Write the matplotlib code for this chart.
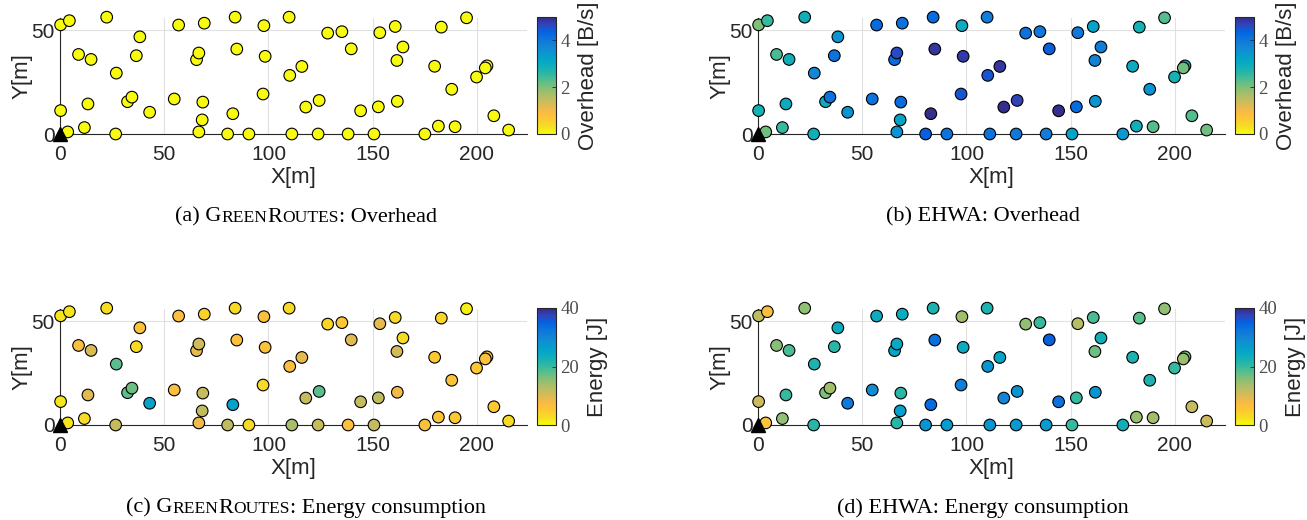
import numpy as np
import matplotlib.pyplot as plt
from matplotlib.colors import LinearSegmentedColormap, Normalize
from matplotlib.cm import ScalarMappable
from matplotlib.offsetbox import TextArea, HPacker, AnchoredOffsetbox

# node positions [m]
xs = [0.3, 4.5, 22.4, 8.9, 14.9, 38.3, 36.6, 27.0, 0.3, 13.4, 32.4, 34.5, 43.0, 11.7, 3.7, 26.7,
      56.9, 69.2, 84.0, 97.8, 109.9, 65.5, 66.6, 84.8, 98.4, 110.2, 116.0, 54.8, 68.5, 97.4, 68.2,
      82.9, 117.9, 124.3, 66.6, 80.4, 90.6, 111.2, 123.8, 128.4, 135.2, 139.7, 153.4, 160.8, 164.5,
      161.6, 182.9, 195.0, 179.7, 204.8, 204.0, 199.8, 187.9, 144.2, 152.7, 161.8, 208.1, 215.2,
      138.2, 150.6, 175.0, 181.5, 189.5]
ys = [52.7, 54.7, 56.4, 38.4, 36.0, 46.9, 37.8, 29.4, 11.3, 14.5, 15.6, 17.8, 10.5, 3.1, 1.0, 0.0,
      52.6, 53.5, 56.4, 52.3, 56.4, 35.9, 39.1, 41.0, 37.5, 28.3, 32.6, 16.9, 15.4, 19.3, 6.8,
      9.8, 13.0, 16.2, 1.0, 0.0, 0.0, 0.0, 0.0, 48.7, 49.4, 41.1, 48.9, 51.9, 42.0,
      35.5, 51.6, 56.1, 32.7, 32.9, 31.9, 27.5, 21.6, 11.2, 13.1, 15.8, 8.8, 1.9,
      0.0, 0.0, 0.0, 3.8, 3.5]
sink = (0, 0)

# overhead [B/s]
overhead_gr = [0.0, 0.0, 0.0, 0.0, 0.0, 0.0, 0.0, 0.0, 0.0, 0.0, 0.0, 0.0, 0.0, 0.0, 0.0, 0.0,
               0.0, 0.0, 0.0, 0.0, 0.0, 0.0, 0.0, 0.0, 0.0, 0.0, 0.0, 0.0, 0.0, 0.0, 0.0,
               0.0, 0.0, 0.0, 0.0, 0.0, 0.0, 0.0, 0.0, 0.0, 0.0, 0.0, 0.0, 0.0, 0.0,
               0.0, 0.0, 0.0, 0.0, 0.0, 0.0, 0.0, 0.0, 0.0, 0.0, 0.0, 0.0, 0.0,
               0.0, 0.0, 0.0, 0.0, 0.0]
overhead_ehwa = [2.0, 2.5, 2.9, 2.4, 2.9, 3.5, 4.1, 3.7, 2.8, 3.0, 3.0, 4.1, 3.5, 2.5, 2.1, 2.9,
                 4.2, 4.1, 4.2, 3.0, 3.9, 4.2, 4.6, 4.85, 4.8, 4.5, 4.85, 4.1, 4.2, 4.5, 3.2,
                 4.95, 4.95, 4.7, 3.5, 4.4, 4.1, 4.1, 4.0, 4.1, 4.0, 4.4, 4.0, 3.2, 3.9,
                 3.8, 2.8, 2.3, 3.0, 3.1, 2.1, 2.8, 3.5, 4.95, 4.2, 3.5, 2.3, 2.1,
                 3.9, 3.2, 3.4, 2.9, 2.3]

# energy [J]
energy_gr = [2, 2, 2.5, 7, 10, 6, 3, 18, 2, 9.5, 18, 17, 26, 3, 2, 11.5,
             7, 4, 3, 6.5, 3, 9, 10.5, 6.5, 6, 7, 9, 7, 11.5, 3, 12,
             26, 11.5, 18, 8, 12, 3, 13.5, 11.5, 3.5, 5.5, 9.5, 9, 3, 2.5,
             10.5, 3.5, 1, 5, 7, 6.5, 5, 6, 11.5, 12, 8, 5, 3,
             6.5, 11.5, 6.5, 6, 5]
energy_ehwa = [12, 6.8, 15, 15.5, 19, 24, 21, 22, 11, 20, 16, 14, 32, 15, 6, 21,
               24, 24, 22, 14, 22, 25, 24.5, 33, 24, 28, 25, 29, 21, 31, 26,
               34, 30, 28, 21, 28, 27, 28, 27, 15, 20, 35, 12.5, 19, 23,
               17, 18, 15, 22, 16, 14.5, 20, 22, 33, 20, 28, 11.5, 11,
               27, 20, 23, 14.5, 14]

# parula, sampled every 4th entry, then flipped (yellow = low)
parula = [(0.2081, 0.1663, 0.5292), (0.1959, 0.2645, 0.7279), (0.0117, 0.3875, 0.8820),
          (0.0498, 0.4586, 0.8641), (0.0793, 0.5200, 0.8312), (0.0343, 0.5966, 0.8199),
          (0.0228, 0.6535, 0.7768), (0.0843, 0.6928, 0.7062), (0.2178, 0.7250, 0.6193),
          (0.3953, 0.7459, 0.5244), (0.5709, 0.7485, 0.4494), (0.7184, 0.7411, 0.3905),
          (0.8507, 0.7299, 0.3360), (0.9739, 0.7314, 0.2666), (0.9955, 0.7861, 0.1967),
          (0.9626, 0.8705, 0.1309), (0.9763, 0.9831, 0.0538)]
cmap = LinearSegmentedColormap.from_list('parula_r', parula[::-1])

W, H = 1307, 520
fig = plt.figure(figsize=(W / 100, H / 100), dpi=100)
sans = ['Liberation Sans', 'DejaVu Sans']
serif = ['Liberation Serif', 'DejaVu Serif']
dark = (0.15, 0.15, 0.15)


def px_axes(l, t, r, b):
    return fig.add_axes([l / W, 1 - b / H, (r - l) / W, (b - t) / H])


panels = [
    (60, 18, 134, overhead_gr, 5, [0, 2, 4], 'Overhead [B/s]', ['(a) G', 'REEN', 'R', 'OUTES', ': Overhead'], 306, 217),
    (758, 18, 134, overhead_ehwa, 5, [0, 2, 4], 'Overhead [B/s]', ['(b) EHWA: Overhead'], 983, 217),
    (60, 309, 425, energy_gr, 40, [0, 20, 40], 'Energy [J]', ['(c) G', 'REEN', 'R', 'OUTES', ': Energy consumption'], 306, 508),
    (758, 309, 425, energy_ehwa, 40, [0, 20, 40], 'Energy [J]', ['(d) EHWA: Energy consumption'], 983, 508),
]

for left, top, bottom, vals, vmax, cticks, clabel, caption, cx, cy in panels:
    ax = px_axes(left, top, left + 467, bottom)
    norm = Normalize(0, vmax)
    ax.scatter(xs, ys, c=vals, cmap=cmap, norm=norm, s=70, edgecolors='black',
               linewidths=0.8, clip_on=False, zorder=3)
    ax.plot(*sink, marker='^', color='black', markersize=10, clip_on=False, zorder=4)
    ax.set_xlim(0, 224)
    ax.set_ylim(0, 56)
    ax.set_xticks([0, 50, 100, 150, 200])
    ax.set_yticks([0, 50])
    ax.grid(True, color=(0.88, 0.88, 0.88), linewidth=0.8)
    ax.set_axisbelow(True)
    for s in ['top', 'right']:
        ax.spines[s].set_visible(False)
    for s in ['left', 'bottom']:
        ax.spines[s].set_color(dark)
        ax.spines[s].set_linewidth(0.8)
    ax.tick_params(length=0, labelsize=15, labelcolor=dark)
    ax.tick_params(axis='x', pad=8)
    ax.tick_params(axis='y', pad=4)
    for t in ax.get_xticklabels() + ax.get_yticklabels():
        t.set_family(sans)
    ax.set_xlabel('X[m]', family=sans, fontsize=16, color=dark, labelpad=2)
    ax.set_ylabel('Y[m]', family=sans, fontsize=16, color=dark, labelpad=-1)

    cax = px_axes(left + 477, top - 1, left + 496, bottom)
    cb = fig.colorbar(ScalarMappable(norm=norm, cmap=cmap), cax=cax)
    cb.set_ticks(cticks)
    cb.outline.set_edgecolor(dark)
    cb.outline.set_linewidth(0.8)
    cax.tick_params(direction='in', length=3, width=0.6, color=dark, labelsize=13.5,
                    labelcolor=(0.3, 0.3, 0.3), pad=3)
    for t in cax.get_yticklabels():
        t.set_family(serif)
    cb.set_label(clabel, family=sans, fontsize=16, color=dark, labelpad=6)

    # caption with fake small caps
    parts = []
    for i, txt in enumerate(caption):
        size = 12.6 if (len(caption) > 1 and i in (1, 3)) else 16
        parts.append(TextArea(txt, textprops=dict(family=serif, fontsize=size, color='black')))
    box = HPacker(children=parts, align='baseline', pad=0, sep=0)
    anchored = AnchoredOffsetbox(loc='center', child=box, pad=0, borderpad=0, frameon=False,
                                 bbox_to_anchor=(cx / W, 1 - cy / H), bbox_transform=fig.transFigure)
    fig.add_artist(anchored)

fig.savefig('out.png', dpi=100)
